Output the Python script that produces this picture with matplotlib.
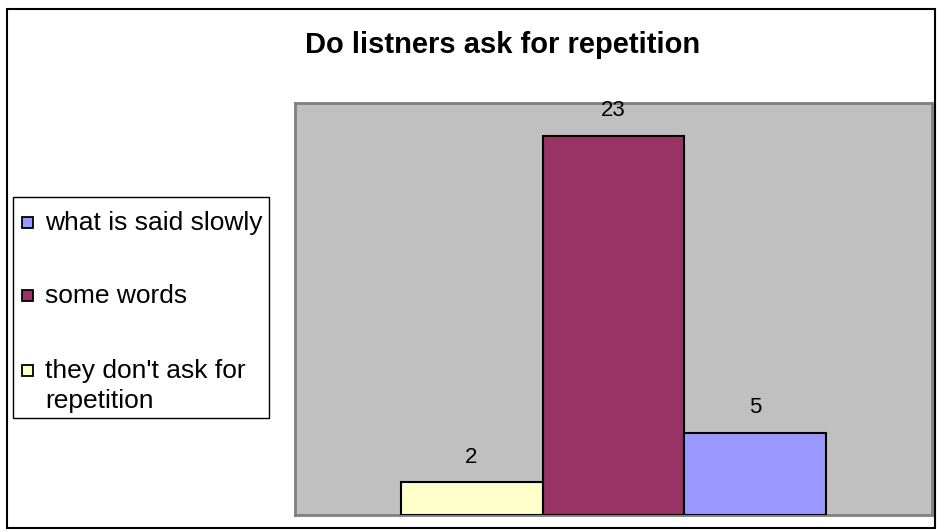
import matplotlib
matplotlib.use("Agg")
import matplotlib.pyplot as plt
from matplotlib.patches import Rectangle

plt.rcParams['font.family'] = ['Liberation Sans', 'DejaVu Sans']

# data (bars drawn left to right)
categories = ["they don't ask for\nrepetition", "some words", "what is said slowly"]
values = [2, 23, 5]
colors = ["#FFFFCC", "#993366", "#9999FF"]
legend_order = [2, 1, 0]
title = "Do listners ask for repetition"

W, H = 939, 531
fig = plt.figure(figsize=(W / 100, H / 100), dpi=100)

def px(x, y):
    # pixel (from top-left) -> figure fraction
    return x / W, 1 - y / H

# plot area in pixels: x 295-932, y 103-515
ax = fig.add_axes([295 / W, 1 - 515 / H, (932 - 295) / W, (515 - 103) / H])
ax.set_facecolor("#C0C0C0")
for s in ax.spines.values():
    s.set_color("#808080")
    s.set_linewidth(2)

pos = [-1, 0, 1]
ax.bar(pos, values, width=1.0, color=colors, edgecolor="black", linewidth=1.5, zorder=3)
ax.set_xlim(-2.243, 2.243)
ax.set_ylim(0, 25)
ax.set_xticks([])
ax.set_yticks([])

for x, v in zip(pos, values):
    ax.annotate(str(v), (x, v), xytext=(0, 18), textcoords="offset points",
                ha="center", va="center", fontsize=16, color="black")

fig.text(*px(503, 45), title, ha="center", va="center", fontsize=21, fontweight="bold")

# legend box, drawn by hand so the wrapped entry keeps its marker on the first line
x0, y0, x1, y1 = 13, 197, 269, 418
fig.patches.append(Rectangle(px(x0, y1), (x1 - x0) / W, (y1 - y0) / H,
                             transform=fig.transFigure, facecolor="white",
                             edgecolor="black", linewidth=1.0))
row_y = [222, 295, 370]
for yy, i in zip(row_y, legend_order):
    fig.patches.append(Rectangle(px(22, yy + 6), 11 / W, 11 / H, transform=fig.transFigure,
                                 facecolor=colors[i], edgecolor="black", linewidth=1.3))
    for k, line in enumerate(categories[i].split("\n")):
        fig.text(*px(45, yy + 1 + 30 * k), line, ha="left", va="center", fontsize=19)

# outer chart border
fig.patches.append(Rectangle((7 / W, 3 / H), (935 - 7) / W, (525 - 6) / H,
                             transform=fig.transFigure, fill=False,
                             edgecolor="black", linewidth=1.5))

fig.savefig("out.png", dpi=100)
